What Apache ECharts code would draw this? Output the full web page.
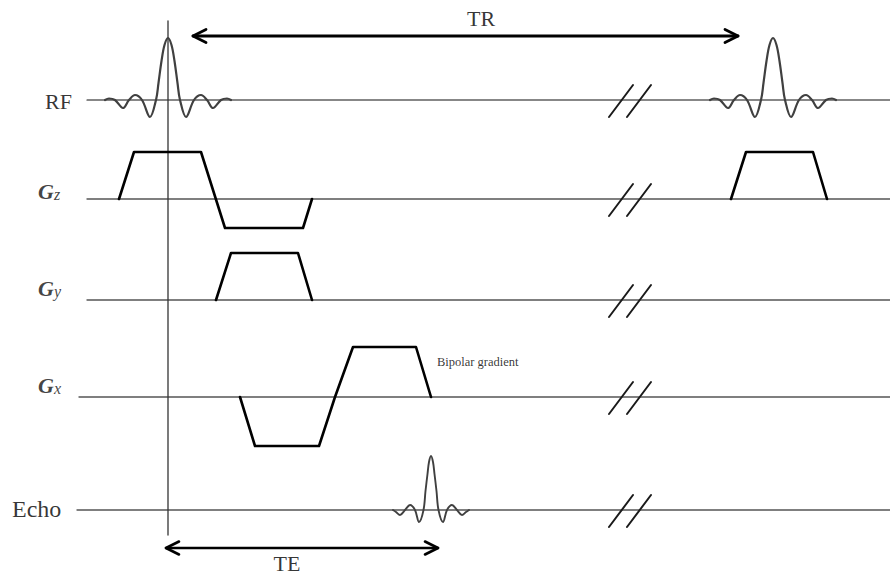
<!DOCTYPE html>
<html>
<head>
<meta charset="utf-8">
<script src="https://cdn.jsdelivr.net/npm/echarts@6/dist/echarts.min.js"></script>
<style>
html,body{margin:0;padding:0;background:#fff;}
#chart{width:890px;height:576px;}
</style>
</head>
<body>
<div id="chart"></div>
<script>
// ---------- DATA (diagram time units along x, amplitude units per channel) ----------
const channels = ['RF', 'Gz', 'Gy', 'Gx', 'Echo'];
const excitationTime = 168;
const rfCenters = [168, 773];
// RF sinc pulse: [time offset, amplitude]
const rfPulse = [[-63,0],[-59,1.5],[-53,0],[-45,-8],[-39,0],[-33,5],[-26,0],[-18,-17],[-12,0],[-9.5,17],[-6.5,39],[-3.5,55],[0,62],
                 [3.5,55],[6.5,39],[9.5,17],[12,0],[18,-17],[26,0],[33,5],[39,0],[45,-8],[53,0],[59,1.5],[63,0]];
const echoCenter = 431;
const echoPulse = [[-38,0],[-35,-2],[-31,-5],[-26,0],[-21,5],[-16,0],[-12,-12],[-7.5,0],[-5.5,19],[-3.5,36],[-2,48],[0,54],
                   [2,48],[3.5,36],[5.5,19],[7.5,0],[12,-12],[16,0],[21,5],[26,0],[31,-5],[35,-2],[38,0]];
// gradient lobes: [time, amplitude]
const gzLobes = [
  [[119,0],[134,47],[201,47],[225,-29],[303,-29],[312,0]],
  [[731,0],[746,47],[813,47],[827,0]]
];
const gyLobes = [
  [[216,0],[231,47],[298,47],[312,0]]
];
const gxLobes = [
  [[240,0],[255,-49],[319,-49],[335,0],[353,50],[416,50],[431,0]]
];
const trSpan = [193, 738];
const teSpan = [166, 438];
const breakTimes = [621, 639];
const labels = { RF: 'RF', Gz: ['G','z'], Gy: ['G','y'], Gx: ['G','x'], Echo: 'Echo' };
const annotation = 'Bipolar gradient';

// ---------- LAYOUT ----------
const W = 890, H = 576;
const rowY = { RF: 100, Gz: 199, Gy: 300, Gx: 397, Echo: 510 };
const lineStart = { RF: 87, Gz: 87, Gy: 87, Gx: 79, Echo: 77 };
const serif = 'Liberation Serif';

const series = [];
function line(points, color, width, smooth, z) {
  series.push({
    type: 'line', data: points, symbol: 'none', smooth: smooth || false,
    lineStyle: { color: color, width: width, cap: 'round', join: 'round' },
    silent: true, animation: false, z: z || 2
  });
}
const toRow = (ch, pts, t0) => pts.map(p => [p[0] + (t0 || 0), rowY[ch] - p[1]]);

// baselines
channels.forEach(ch => {
  line([[lineStart[ch], rowY[ch]], [W, rowY[ch]]], ch === 'RF' ? '#111' : '#555', ch === 'RF' ? 1.2 : 1.3, false, 1);
});
// excitation vertical line
line([[excitationTime, 21], [excitationTime, 535]], '#333', 1.3, false, 1);

// RF pulses
rfCenters.forEach(c => line(toRow('RF', rfPulse, c), '#404040', 2.2, 0.35, 3));
// echo
line(toRow('Echo', echoPulse, echoCenter), '#404040', 1.9, 0.35, 3);
// gradients
gzLobes.forEach(l => line(toRow('Gz', l), '#000', 2.6, false, 3));
gyLobes.forEach(l => line(toRow('Gy', l), '#000', 2.6, false, 3));
gxLobes.forEach(l => line(toRow('Gx', l), '#000', 2.6, false, 3));

// break marks
channels.forEach(ch => {
  breakTimes.forEach(t => {
    line([[t - 12, rowY[ch] + 17], [t + 12, rowY[ch] - 15]], '#1a1a1a', 2, false, 4);
  });
});

// double arrows
function dblArrow(span, y, w) {
  line([[span[0], y], [span[1], y]], '#000', w, false, 4);
  line([[span[0] + 13, y - 6.5], [span[0], y], [span[0] + 13, y + 6.5]], '#000', w, false, 4);
  line([[span[1] - 13, y - 6.5], [span[1], y], [span[1] - 13, y + 6.5]], '#000', w, false, 4);
}
dblArrow(trSpan, 36, 2.8);
dblArrow(teSpan, 548, 2.6);

// text labels
const bigText = { fontFamily: serif, fontSize: 22, color: '#000' };
const gRich = {
  g: { fontFamily: serif, fontStyle: 'italic', fontWeight: 'bold', fontSize: 22, color: '#111', verticalAlign: 'bottom', lineHeight: 22 },
  s: { fontFamily: serif, fontStyle: 'italic', fontSize: 16, color: '#111', verticalAlign: 'bottom', lineHeight: 20 }
};
const textItems = [
  { value: [72, 101], label: Object.assign({ show: true, position: 'left', distance: 0, formatter: labels.RF }, bigText) },
  { value: [38, 191], label: { show: true, position: 'right', distance: 0, formatter: '{g|' + labels.Gz[0] + '}{s|' + labels.Gz[1] + '}', rich: gRich } },
  { value: [38, 288], label: { show: true, position: 'right', distance: 0, formatter: '{g|' + labels.Gy[0] + '}{s|' + labels.Gy[1] + '}', rich: gRich } },
  { value: [38, 385], label: { show: true, position: 'right', distance: 0, formatter: '{g|' + labels.Gx[0] + '}{s|' + labels.Gx[1] + '}', rich: gRich } },
  { value: [12, 509], label: Object.assign({ show: true, position: 'right', distance: 0, formatter: labels.Echo }, bigText, { fontSize: 24 }) },
  { value: [481, 18], label: Object.assign({ show: true, position: 'inside', formatter: 'TR' }, bigText) },
  { value: [287, 563], label: Object.assign({ show: true, position: 'inside', formatter: 'TE' }, bigText) },
  { value: [437, 362], label: { show: true, position: 'right', distance: 0, formatter: annotation, fontFamily: serif, fontSize: 12.5, color: '#000' } }
];
series.push({ type: 'scatter', symbolSize: 0, data: textItems, silent: true, animation: false, z: 5 });

const chart = echarts.init(document.getElementById('chart'), null, { renderer: 'svg', width: W, height: H });
chart.setOption({
  animation: false,
  backgroundColor: '#fff',
  grid: { left: 0, right: 0, top: 0, bottom: 0 },
  xAxis: { type: 'value', min: 0, max: W, show: false },
  yAxis: { type: 'value', min: 0, max: H, inverse: true, show: false },
  series: series
});
</script>
</body>
</html>
